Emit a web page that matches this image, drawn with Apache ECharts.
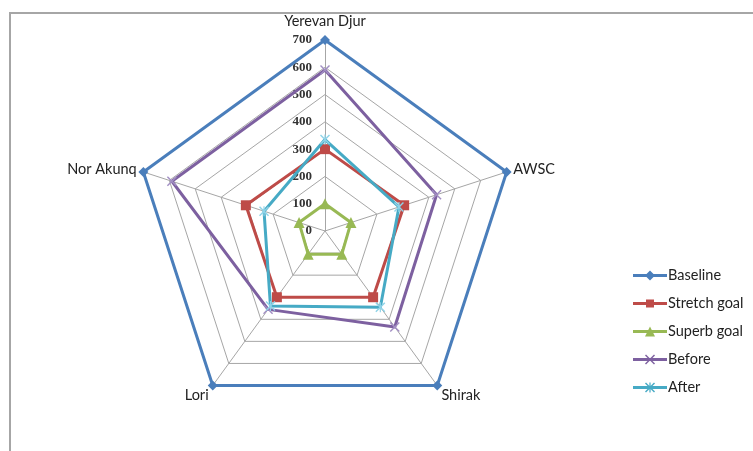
<!DOCTYPE html>
<html>
<head>
<meta charset="utf-8">
<script src="https://cdn.jsdelivr.net/npm/echarts@6/dist/echarts.min.js"></script>
<style>
  html, body { margin: 0; padding: 0; background: #fff; }
  #chart { width: 753px; height: 451px; }
</style>
</head>
<body>
<div id="chart"></div>
<script>
// categories, in the order Excel draws them (clockwise from the top)
var indicators = ['Yerevan Djur', 'AWSC', 'Shirak', 'Lori', 'Nor Akunq']
var maxValue = 700
var tickValues = [0, 100, 200, 300, 400, 500, 600, 700]

var seriesNames = ['Baseline', 'Stretch goal', 'Superb goal', 'Before', 'After']
var baseline = [700, 700, 700, 700, 700]
var stretchGoal = [300, 305, 300, 300, 305]
var superbGoal = [100, 100, 105, 105, 100]
var before = [590, 430, 435, 355, 590]
var after = [335, 285, 345, 340, 235]

var colors = ['#4a7ebb', '#be4b48', '#98b954', '#7d60a0', '#46aac5']
var markerColors = ['#4a7ebb', '#be4b48', '#98b954', '#a28fc4', '#8fd3e8']

// echarts walks the indicators counter-clockwise, so flip the order
var order = [0, 4, 3, 2, 1]
function ccw (arr) {
  return order.map(function (i) { return arr[i] })
}

var xPath = 'path://M0,1L1,0L5,4L9,0L10,1L6,5L10,9L9,10L5,6L1,10L0,9L4,5Z'
var starPath = 'path://M0,1L1,0L5,4L9,0L10,1L6,5L10,9L9,10L5,6L1,10L0,9L4,5Z M4.4,0L5.6,0L5.6,10L4.4,10Z'
var symbols = ['diamond', 'rect', 'triangle', xPath, starPath]
var symbolSizes = [10, 10, 11, 10, 10]

// legend icons: a line with the marker in the middle (34 x 10 box)
var lineBar = 'M0,3.5L34,3.5L34,6.5L0,6.5Z'
var legendIcons = [
  'path://' + lineBar + 'M17,0L22,5L17,10L12,5Z',
  'path://' + lineBar + 'M13,1L21,1L21,9L13,9Z M13,0L13,0.01L13.01,0Z M13,10L13,10.01L13.01,10Z',
  'path://' + lineBar + 'M17,0L22,10L12,10Z',
  'path://' + lineBar + 'M12,1L13,0L17,4L21,0L22,1L18,5L22,9L21,10L17,6L13,10L12,9L16,5Z',
  'path://' + lineBar + 'M12,1L13,0L17,4L21,0L22,1L18,5L22,9L21,10L17,6L13,10L12,9L16,5Z M16.4,0L17.6,0L17.6,10L16.4,10Z'
]

var allValues = [baseline, stretchGoal, superbGoal, before, after]

var chart = echarts.init(document.getElementById('chart'))

var series = seriesNames.map(function (name, i) {
  return {
    name: name,
    type: 'radar',
    z: 2 + i,
    symbol: symbols[i],
    symbolSize: symbolSizes[i],
    lineStyle: { color: colors[i], width: 3 },
    itemStyle: { color: markerColors[i] },
    data: [{ name: name, value: ccw(allValues[i]) }]
  }
})

chart.setOption({
  animation: false,
  backgroundColor: '#fff',
  graphic: [
    {
      type: 'polyline',
      shape: { points: [[10, 451], [10, 13], [753, 13]] },
      style: { stroke: '#a6a6a6', lineWidth: 2, fill: null }
    }
  ],
  legend: {
    orient: 'vertical',
    left: 628,
    top: 263,
    itemWidth: 34,
    itemHeight: 10,
    itemGap: 13,
    textStyle: { fontFamily: 'Lato', fontSize: 14.5, color: '#222', padding: [0, 0, 0, -4] },
    data: seriesNames.map(function (name, i) {
      return { name: name, icon: legendIcons[i], itemStyle: { color: colors[i] } }
    })
  },
  radar: {
    center: [325, 231],
    radius: 191,
    startAngle: 90,
    shape: 'polygon',
    splitNumber: tickValues.length - 1,
    indicator: ccw(indicators).map(function (n) {
      return { name: n, min: 0, max: maxValue }
    }),
    axisName: {
      color: '#222',
      fontFamily: 'Lato',
      fontSize: 14.5,
      formatter: function (name) {
        if (name === 'Yerevan Djur') return '{top|' + name + '}'
        if (name === 'Shirak' || name === 'Lori') return '{low|' + name + '}'
        return name
      },
      rich: {
        top: { fontFamily: 'Lato', fontSize: 14.5, color: '#222', padding: [0, 0, 4, 0] },
        low: { fontFamily: 'Lato', fontSize: 14.5, color: '#222', padding: [8, 0, 0, 0] }
      }
    },
    nameGap: 7,
    axisLine: { lineStyle: { color: '#a6a6a6', width: 1 } },
    splitLine: { lineStyle: { color: '#a6a6a6', width: 1 } },
    splitArea: { show: false },
    axisTick: { show: false },
    axisLabel: { show: false }
  },
  // value labels along the top spoke
  grid: { left: 325, top: 40, width: 1, height: 191 },
  xAxis: { show: false, type: 'value' },
  yAxis: {
    type: 'value',
    min: tickValues[0],
    max: tickValues[tickValues.length - 1],
    interval: 100,
    axisLine: { show: false },
    axisTick: { show: false },
    splitLine: { show: false },
    axisLabel: {
      margin: 13,
      fontFamily: 'Liberation Serif',
      fontWeight: 'bold',
      fontSize: 13,
      color: '#333'
    }
  },
  series: series
})
</script>
</body>
</html>
